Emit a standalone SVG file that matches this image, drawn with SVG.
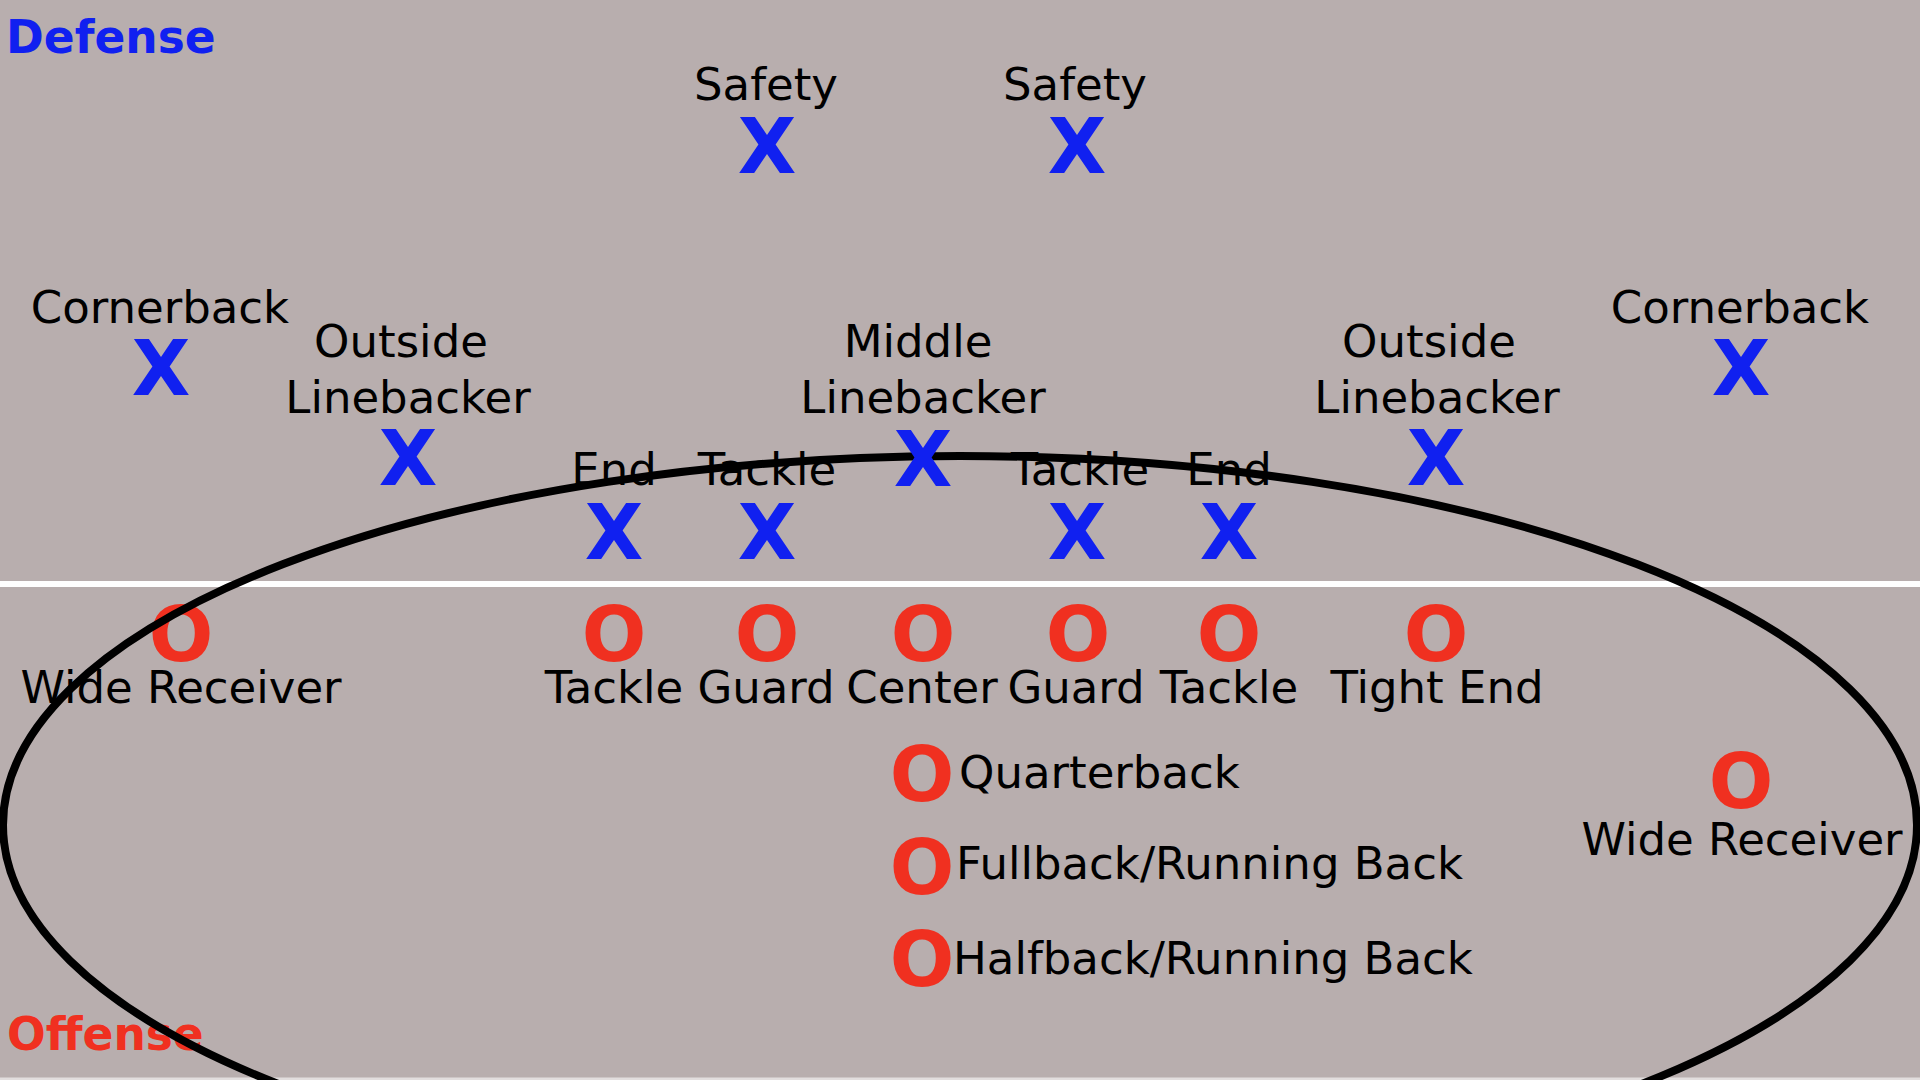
<svg xmlns="http://www.w3.org/2000/svg" width="1920" height="1080" viewBox="0 0 1920 1080">
<style>
.lbl{font-family:"DejaVu Sans",sans-serif;font-size:45px;fill:#000;text-anchor:middle}
.lbs{font-family:"DejaVu Sans",sans-serif;font-size:45px;fill:#000}
.x{font-family:"DejaVu Sans",sans-serif;font-weight:bold;font-size:76px;fill:#1020f0;text-anchor:middle}
.o{font-family:"DejaVu Sans",sans-serif;font-weight:bold;font-size:76px;fill:#f03020;text-anchor:middle}
.title{font-family:"DejaVu Sans",sans-serif;font-weight:bold;font-size:45.5px}
</style>
<rect x="0" y="0" width="1920" height="1080" fill="#e2dede"/>
<rect x="0" y="0" width="1920" height="1077.5" fill="#b8aeae"/>
<rect x="0" y="581" width="1920" height="6" fill="#ffffff"/>
<text class="title" x="6" y="53" fill="#1020f0">Defense</text>
<text class="title" x="7" y="1050" fill="#f03020">Offense</text>
<g id="defense">
<g id="safety-l"><text class="lbl" x="766" y="100">Safety</text><text class="x" x="767" y="173">X</text></g>
<g id="safety-r"><text class="lbl" x="1075" y="100">Safety</text><text class="x" x="1077" y="173">X</text></g>
<g id="cb-l"><text class="lbl" x="160" y="323">Cornerback</text><text class="x" x="161" y="395">X</text></g>
<g id="cb-r"><text class="lbl" x="1740" y="323">Cornerback</text><text class="x" x="1741" y="395">X</text></g>
<g id="olb-l"><text class="lbl" x="401" y="357">Outside</text><text class="lbl" x="408" y="413">Linebacker</text><text class="x" x="408" y="485">X</text></g>
<g id="olb-r"><text class="lbl" x="1429" y="357">Outside</text><text class="lbl" x="1437" y="413">Linebacker</text><text class="x" x="1436" y="485">X</text></g>
<g id="mlb"><text class="lbl" x="918" y="357">Middle</text><text class="lbl" x="923" y="413">Linebacker</text></g>
<g id="de-l"><text class="lbl" x="614" y="485">End</text><text class="x" x="614" y="559">X</text></g>
<g id="dt-l"><text class="lbl" x="767" y="485">Tackle</text><text class="x" x="767" y="559">X</text></g>
<g id="dt-r"><text class="lbl" x="1080" y="485">Tackle</text><text class="x" x="1077" y="559">X</text></g>
<g id="de-r"><text class="lbl" x="1229" y="485">End</text><text class="x" x="1229" y="559">X</text></g>
</g>
<g id="offense">
<g id="wr-l"><text class="o" x="181" y="661">O</text><text class="lbl" x="181" y="703">Wide Receiver</text></g>
<g id="ot-l"><text class="o" x="614" y="661">O</text><text class="lbl" x="614" y="703">Tackle</text></g>
<g id="og-l"><text class="o" x="767" y="661">O</text><text class="lbl" x="766" y="703">Guard</text></g>
<g id="c"><text class="o" x="923" y="661">O</text><text class="lbl" x="922" y="703">Center</text></g>
<g id="og-r"><text class="o" x="1078" y="661">O</text><text class="lbl" x="1076" y="703">Guard</text></g>
<g id="ot-r"><text class="o" x="1229" y="661">O</text><text class="lbl" x="1229" y="703">Tackle</text></g>
<g id="te"><text class="o" x="1436" y="661">O</text><text class="lbl" x="1437" y="703">Tight End</text></g>
<g id="qb"><text class="o" x="922" y="801">O</text><text class="lbs" x="959" y="788">Quarterback</text></g>
<g id="fb"><text class="o" x="922" y="894">O</text><text class="lbs" x="956" y="879">Fullback/Running Back</text></g>
<g id="hb"><text class="o" x="922" y="986">O</text><text class="lbs" x="953" y="974">Halfback/Running Back</text></g>
<g id="wr-r"><text class="o" x="1741" y="808">O</text><text class="lbl" x="1742" y="855">Wide Receiver</text></g>
</g>
<g id="connectors">
<ellipse cx="960" cy="825" rx="957" ry="369" fill="none" stroke="#000" stroke-width="8"/>
</g>
<g id="mlb-x"><text class="x" x="923" y="486">X</text></g>
</svg>
